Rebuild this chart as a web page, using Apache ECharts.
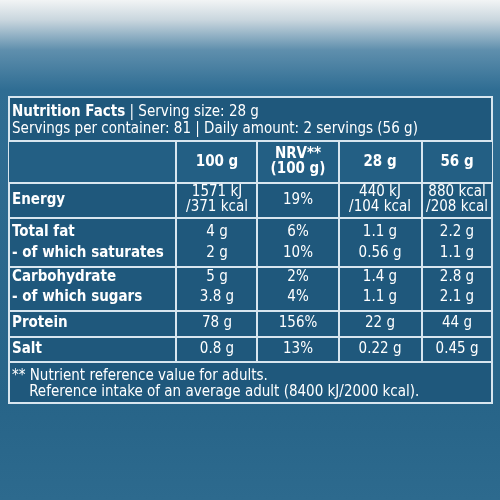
<!DOCTYPE html>
<html><head><meta charset="utf-8">
<script src="https://cdn.jsdelivr.net/npm/echarts@6/dist/echarts.min.js"></script>
<style>html,body{margin:0;padding:0;background:#fff}#c{width:500px;height:500px}</style>
</head><body><div id="c"></div>
<script>
var headerLines = [['Nutrition Facts', ' | Serving size: 28 g'], ['', 'Servings per container: 81 | Daily amount: 2 servings (56 g)']];
var columns = ['100 g', 'NRV**\n(100 g)', '28 g', '56 g'];
var nutrients = ['Energy', 'Total fat', '- of which saturates', 'Carbohydrate', '- of which sugars', 'Protein', 'Salt'];
var per100 = ['1571 kJ\n/371 kcal', '4 g', '2 g', '5 g', '3.8 g', '78 g', '0.8 g'];
var nrv = ['19%', '6%', '10%', '2%', '4%', '156%', '13%'];
var per28 = ['440 kJ\n/104 kcal', '1.1 g', '0.56 g', '1.4 g', '1.1 g', '22 g', '0.22 g'];
var per56 = ['880 kcal\n/208 kcal', '2.2 g', '1.1 g', '2.8 g', '2.1 g', '44 g', '0.45 g'];
var footnotes = ['** Nutrient reference value for adults.', '    Reference intake of an average adult (8400 kJ/2000 kcal).'];

var font = '"DejaVu Sans Condensed", "Liberation Sans", sans-serif';
var line = '#d8e6ef';
var L = 9, R = 492, T = 97, B = 403;
var colX = [176, 257, 339, 422];
var colC = [217, 298, 380, 457];
var rowY = [200, 232, 253, 277, 297, 323, 349];   // text centres
var hLines = [141, 183, 218, 267, 311, 337, 362];

var g = [];
g.push({type: 'rect', shape: {x: 0, y: 0, width: 500, height: 500}, style: {fill: new echarts.graphic.LinearGradient(0, 0, 0, 1, [
  {offset: 0, color: '#f2f4f5'}, {offset: 0.04, color: '#c9d6de'}, {offset: 0.1, color: '#5f8fad'}, {offset: 0.18, color: '#2f6d93'}, {offset: 0.8, color: '#276488'}, {offset: 1, color: '#2d6a8e'}])}});
g.push({type: 'rect', shape: {x: L, y: T, width: R - L, height: B - T}, style: {fill: '#1f587c', stroke: line, lineWidth: 2}});
g.push({type: 'rect', shape: {x: L, y: 141, width: R - L, height: 42}, style: {fill: '#235f84'}});
hLines.forEach(function (y) {
  g.push({type: 'line', shape: {x1: L, y1: y, x2: R, y2: y}, style: {stroke: line, lineWidth: 2}});
});
colX.forEach(function (x) {
  g.push({type: 'line', shape: {x1: x, y1: 141, x2: x, y2: 362}, style: {stroke: line, lineWidth: 2}});
});
headerLines.forEach(function (p, i) {
  g.push({type: 'text', x: 12, y: 112 + i * 17, style: {
    text: (p[0] ? '{b|' + p[0] + '}' : '') + '{n|' + p[1] + '}', verticalAlign: 'middle',
    rich: {b: {font: 'bold 15px ' + font, fill: '#fff'}, n: {font: '15px ' + font, fill: '#fff'}}}});
});
columns.forEach(function (c, i) {
  g.push({type: 'text', x: colC[i], y: 162, style: {text: c, font: 'bold 15px ' + font, fill: '#fff', align: 'center', verticalAlign: 'middle', lineHeight: 15}});
});
var cols = [per100, nrv, per28, per56];
nutrients.forEach(function (n, r) {
  var y = rowY[r];
  g.push({type: 'text', x: 12, y: y, style: {text: n, font: 'bold 15px ' + font, fill: '#fff', verticalAlign: 'middle'}});
  cols.forEach(function (col, j) {
    g.push({type: 'text', x: colC[j], y: y, style: {text: col[r], font: '15px ' + font, fill: '#fff', align: 'center', verticalAlign: 'middle', lineHeight: 15}});
  });
});
footnotes.forEach(function (f, i) {
  g.push({type: 'text', x: 12, y: 376 + i * 16, style: {text: f, font: '15px ' + font, fill: '#fff', verticalAlign: 'middle'}});
});

var chart = echarts.init(document.getElementById('c'));
chart.setOption({graphic: g});
</script></body></html>
